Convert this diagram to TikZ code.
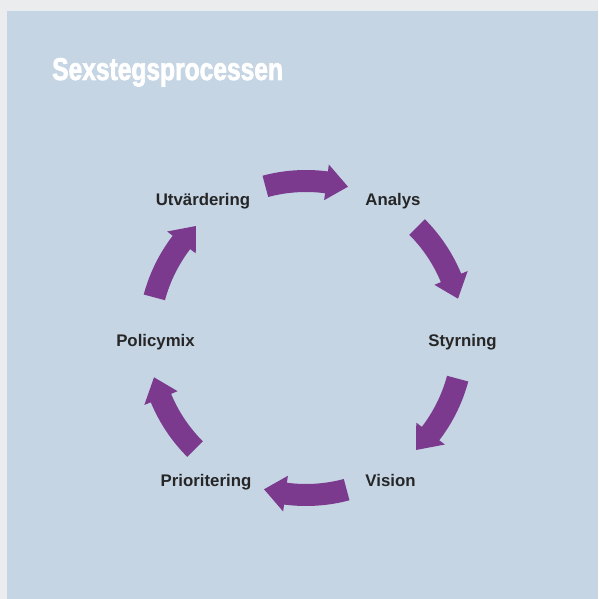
\documentclass[tikz,border=0pt]{standalone}
\usepackage{fontspec}
\setmainfont{Liberation Sans}
\newfontfamily\titlefont[FakeStretch=0.78,FakeBold=2]{Liberation Sans}
\definecolor{pagegray}{HTML}{EBECEE}
\definecolor{panelblue}{HTML}{C5D5E4}
\definecolor{arrowpurple}{HTML}{7B3A8D}
\definecolor{labeltext}{HTML}{262626}
\tikzset{
  steplabel/.style={font=\bfseries\fontsize{16.8}{20}\selectfont, text=labeltext, anchor=base, inner sep=0pt},
  cyclearrow/.style={fill=arrowpurple, draw=none}
}
\begin{document}
\begin{tikzpicture}[x=1pt,y=1pt]
\useasboundingbox (0,0) rectangle (598,599);
\fill[pagegray] (0,0) rectangle (598,599);
\fill[panelblue] (7,0) rectangle (598,588);
\node[font=\titlefont\bfseries\fontsize{31.5}{36}\selectfont, text=white, anchor=base west, inner sep=0pt] (title) at (52,519) {Sexstegsprocessen};
\node[steplabel] (utv) at (203,393) {Utvärdering};
\node[steplabel] (ana) at (393,393) {Analys};
\node[steplabel] (pol) at (155.5,252) {Policymix};
\node[steplabel] (sty) at (462.5,252) {Styrning};
\node[steplabel] (pri) at (206,112) {Prioritering};
\node[steplabel] (vis) at (390.5,112) {Vision};
\begin{scope}[shift={(306,261)}]
\foreach \c in {90,30,-30,-90,-150,150}{
  \pgfmathsetmacro{\ta}{\c+15}
  \pgfmathsetmacro{\hb}{\c-7.5}
  \pgfmathsetmacro{\tp}{\c-15.5}
  \fill[cyclearrow] (\ta:146pt) arc[start angle=\ta, end angle=\hb, radius=146pt]
    -- (\hb:139pt) -- (\tp:157pt) -- (\hb:175pt) -- (\hb:168pt)
    arc[start angle=\hb, end angle=\ta, radius=168pt] -- cycle;
}
\end{scope}
\end{tikzpicture}
\end{document}
